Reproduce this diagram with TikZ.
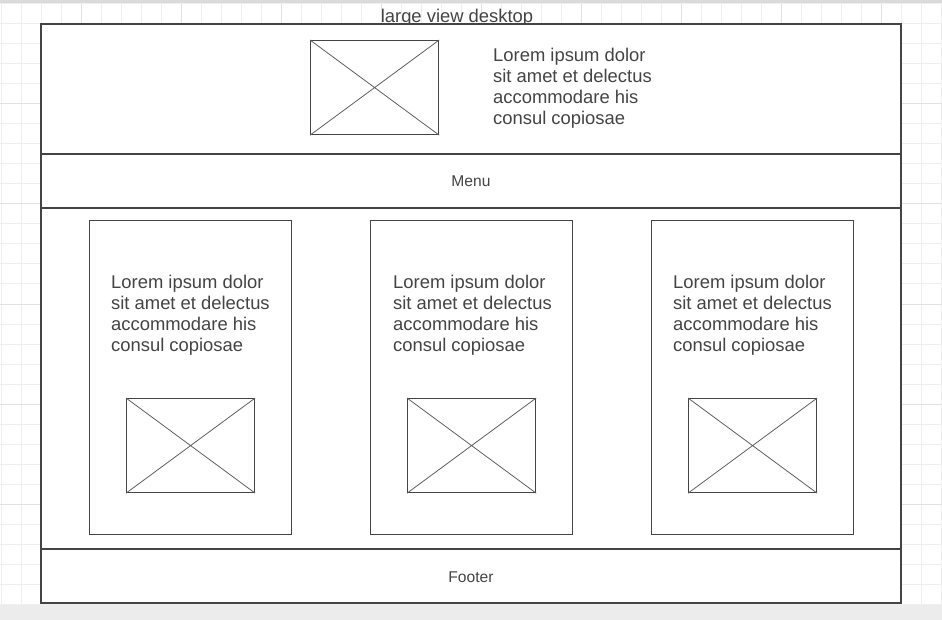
\documentclass[tikz,border=0pt]{standalone}
\usepackage{fontspec}
\setmainfont{Liberation Sans}
\definecolor{ink}{HTML}{444444}
\definecolor{txt}{HTML}{444444}
\definecolor{gridminor}{HTML}{EFEFEF}
\definecolor{gridmajor}{HTML}{E2E2E2}
\definecolor{topband}{HTML}{DADADA}
\definecolor{botband}{HTML}{ECECEC}
\tikzset{
  frame/.style={draw=ink, line width=1.3pt, fill=white},
  imgbox/.style={draw=ink, line width=1.2pt},
  cross/.style={draw=ink!85, line width=0.8pt},
  bigtext/.style={font=\fontsize{18.4}{21}\selectfont, text=txt, inner sep=0pt, align=left},
  smalltext/.style={font=\fontsize{15.6}{18}\selectfont, text=txt, inner sep=0pt},
}
\begin{document}
\begin{tikzpicture}[x=1pt,y=-1pt]
\useasboundingbox (0,0) rectangle (942,620);
% background
\fill[white] (0,0) rectangle (942,620);
\fill[topband] (0,0) rectangle (942,4);
\fill[botband] (0,604) rectangle (942,620);
% grid
\foreach \gx in {1,21,...,941} {\draw[gridminor, line width=1pt] (\gx,4) -- (\gx,604);}
\foreach \gy in {4,24,...,604} {\draw[gridminor, line width=1pt] (0,\gy) -- (942,\gy);}
\foreach \gx in {81,181,...,881} {\draw[gridmajor, line width=1pt] (\gx,4) -- (\gx,604);}
\foreach \gy in {104,204,...,504} {\draw[gridmajor, line width=1pt] (0,\gy) -- (942,\gy);}
% title
\node[bigtext, anchor=base] (title) at (457,22.5) {large view desktop};
% main sections
\draw[frame] (41,24) rectangle (901,154);
\draw[frame] (41,154) rectangle (901,208);
\draw[frame] (41,208) rectangle (901,549);
\draw[frame] (41,549) rectangle (901,603);
% header image
\node[imgbox, minimum width=128pt, minimum height=94pt, inner sep=0pt, anchor=north west] (himg) at (310,40) {};
\draw[cross] (himg.north west) -- (himg.south east) (himg.north east) -- (himg.south west);
\node[bigtext, anchor=north west] (htext) at (493,48) {Lorem ipsum dolor\\sit amet et delectus\\accommodare his\\consul copiosae};
% menu / footer labels
\node[smalltext, anchor=base] (menu) at (471,187) {Menu};
\node[smalltext, anchor=base] (footer) at (471,582) {Footer};
% columns
\foreach \cx/\tx/\ix/\nm in {89/111/126/a, 370/393/407/b, 651/673/688/c} {
  \node[frame, minimum width=202pt, minimum height=314pt, inner sep=0pt, anchor=north west] (col\nm) at (\cx,220) {};
  \node[bigtext, anchor=north west] (ctext\nm) at (\tx,275) {Lorem ipsum dolor\\sit amet et delectus\\accommodare his\\consul copiosae};
  \node[imgbox, minimum width=128pt, minimum height=94pt, inner sep=0pt, anchor=north west] (cimg\nm) at (\ix,398) {};
  \draw[cross] (cimg\nm.north west) -- (cimg\nm.south east) (cimg\nm.north east) -- (cimg\nm.south west);
}
\end{tikzpicture}
\end{document}
